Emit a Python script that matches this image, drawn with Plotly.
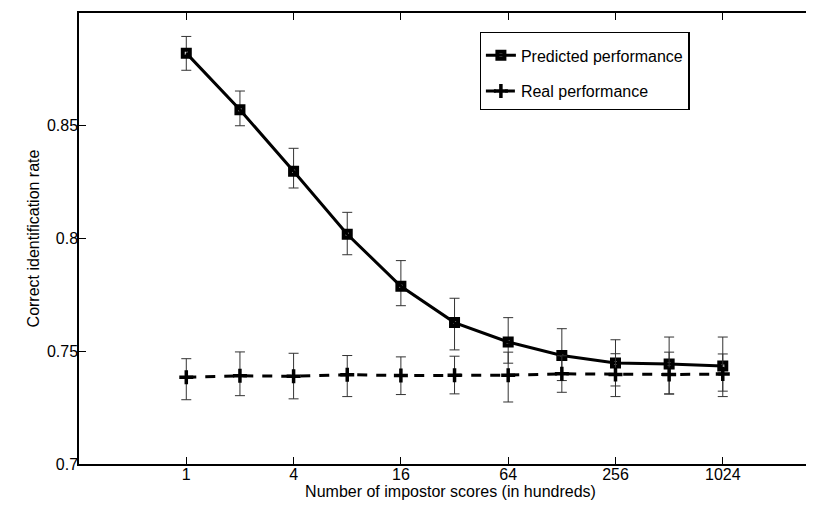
import plotly.graph_objects as go

# Data (x in hundreds of impostor scores)
x_vals = [1, 2, 4, 8, 16, 32, 64, 128, 256, 512, 1024]

pred_vals = [0.8822, 0.8571, 0.8298, 0.8019, 0.7788, 0.7627, 0.7541, 0.7481, 0.7448, 0.7444, 0.7435]
pred_upper = [0.8896, 0.8654, 0.8400, 0.8116, 0.7902, 0.7735, 0.7649, 0.7600, 0.7551, 0.7563, 0.7563]
pred_lower = [0.8746, 0.8500, 0.8224, 0.7928, 0.7702, 0.7506, 0.7447, 0.7370, 0.7346, 0.7310, 0.7299]

real_vals = [0.7385, 0.7391, 0.7389, 0.7396, 0.7392, 0.7394, 0.7394, 0.7400, 0.7397, 0.7397, 0.7399]
real_upper = [0.7467, 0.7497, 0.7491, 0.7481, 0.7475, 0.7478, 0.7496, 0.7480, 0.7489, 0.7496, 0.7488]
real_lower = [0.7285, 0.7303, 0.7289, 0.7299, 0.7308, 0.7311, 0.7275, 0.7318, 0.7299, 0.7311, 0.7323]

x_ticks = [1, 4, 16, 64, 256, 1024]
x_ticktext = ["1", "4", "16", "64", "256", "1024"]
y_ticks = [0.7, 0.75, 0.8, 0.85]
y_ticktext = ["0.7", "0.75", "0.8", "0.85"]

FONT = "Liberation Sans, Arial, Helvetica, sans-serif"

fig = go.Figure()

fig.add_trace(go.Scatter(
    x=x_vals, y=pred_vals, name="Predicted performance",
    mode="lines+markers", legendgroup="a",
    line=dict(color="black", width=3),
    marker=dict(symbol="square-open", size=7, color="black", line=dict(width=4, color="black")),
    error_y=dict(type="data", symmetric=False,
                 array=[u - v for u, v in zip(pred_upper, pred_vals)],
                 arrayminus=[v - l for l, v in zip(pred_lower, pred_vals)],
                 color="#333333", thickness=1, width=5),
))

fig.add_trace(go.Scatter(
    x=x_vals, y=real_vals, name="Real performance",
    mode="lines+markers", legendgroup="b",
    line=dict(color="black", width=3, dash="10px,9px"),
    marker=dict(symbol="cross-thin-open", size=10, color="black", line=dict(width=3.5, color="black")),
    error_y=dict(type="data", symmetric=False,
                 array=[u - v for u, v in zip(real_upper, real_vals)],
                 arrayminus=[v - l for l, v in zip(real_lower, real_vals)],
                 color="#333333", thickness=1, width=5),
))

fig.update_layout(
    width=814, height=505,
    margin=dict(l=71, r=0, t=5, b=49),
    paper_bgcolor="white", plot_bgcolor="white",
    font=dict(family=FONT, size=16, color="black"),
    showlegend=True,
    legend=dict(
        x=0.5393, y=0.9579, xanchor="left", yanchor="top",
        bordercolor="black", borderwidth=1.2, bgcolor="white",
        font=dict(size=16), tracegroupgap=12,
        title=dict(text=" ", font=dict(size=4)),
        traceorder="grouped",
    ),
    xaxis=dict(
        type="log", range=[-0.602, 3.567],
        tickvals=x_ticks, ticktext=x_ticktext,
        ticks="inside", ticklen=7, tickcolor="black", tickwidth=1,
        ticklabelstandoff=-5,
        showline=True, linecolor="black", linewidth=1.5, mirror="ticks",
        showgrid=False, zeroline=False,
        title=dict(text="Number of impostor scores (in hundreds)", standoff=4, font=dict(size=16)),
    ),
    yaxis=dict(
        range=[0.7, 0.9],
        tickvals=y_ticks, ticktext=y_ticktext,
        ticks="inside", ticklen=7, tickcolor="black", tickwidth=1,
        ticklabelstandoff=-4,
        showline=True, linecolor="black", linewidth=1.5, mirror=False,
        showgrid=False, zeroline=False,
        title=dict(text="Correct identification rate", standoff=3, font=dict(size=16)),
    ),
)

fig.write_html("out.html")
